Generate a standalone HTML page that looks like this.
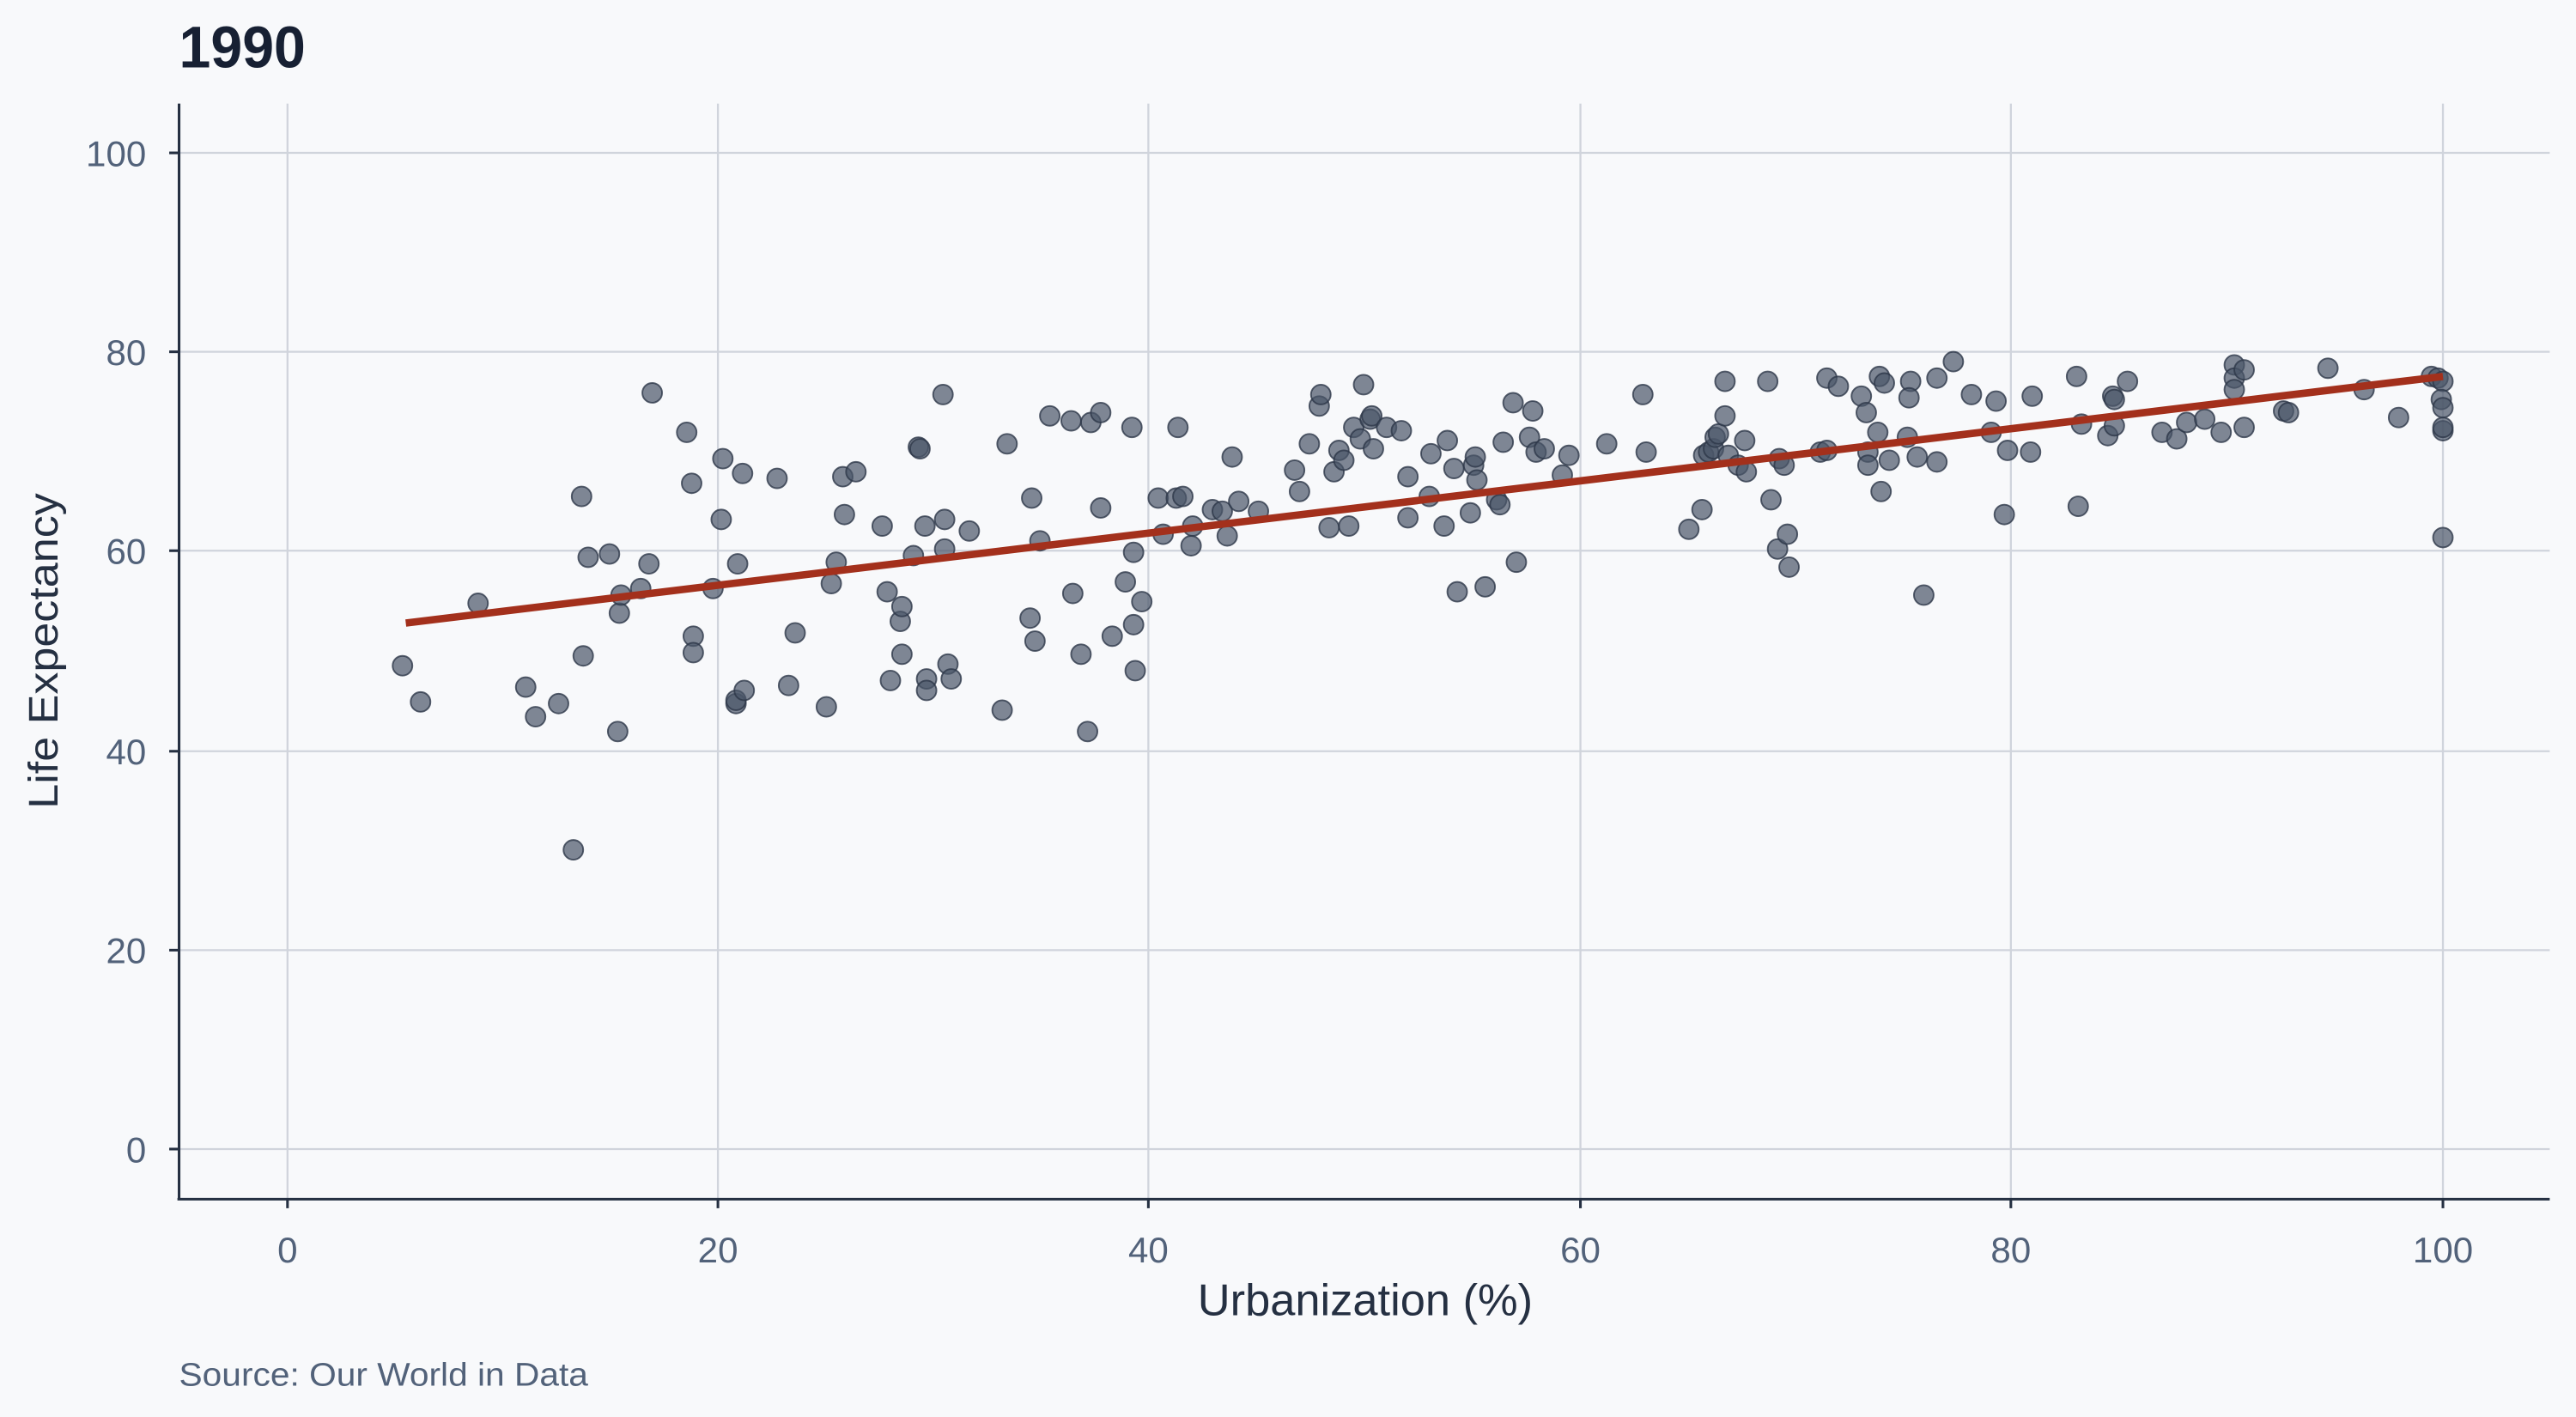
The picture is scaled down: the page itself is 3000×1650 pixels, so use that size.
<!DOCTYPE html>
<html><head><meta charset="utf-8"><style>html,body{margin:0;padding:0;background:#f8f9fb}svg{display:block}</style></head>
<body>
<svg width="3000" height="1650" viewBox="0 0 1568 862" preserveAspectRatio="none" xmlns="http://www.w3.org/2000/svg" font-family="Liberation Sans, Arial, sans-serif">
<rect width="1568" height="862" fill="#f8f9fb"/>
<g stroke="#d0d4dc" stroke-width="1.2">
<line x1="175" y1="63" x2="175" y2="729"/><line x1="437" y1="63" x2="437" y2="729"/><line x1="699" y1="63" x2="699" y2="729"/><line x1="962" y1="63" x2="962" y2="729"/><line x1="1224" y1="63" x2="1224" y2="729"/><line x1="1487" y1="63" x2="1487" y2="729"/>
<line x1="109" y1="699" x2="1552" y2="699"/><line x1="109" y1="578" x2="1552" y2="578"/><line x1="109" y1="457" x2="1552" y2="457"/><line x1="109" y1="335" x2="1552" y2="335"/><line x1="109" y1="214" x2="1552" y2="214"/><line x1="109" y1="93" x2="1552" y2="93"/>
</g>
<g stroke="#253042" stroke-width="1.6">
<line x1="109" y1="63" x2="109" y2="730"/><line x1="108" y1="729.5" x2="1552" y2="729.5"/>
<line x1="103" y1="699" x2="109" y2="699"/><line x1="103" y1="578" x2="109" y2="578"/><line x1="103" y1="457" x2="109" y2="457"/><line x1="103" y1="335" x2="109" y2="335"/><line x1="103" y1="214" x2="109" y2="214"/><line x1="103" y1="93" x2="109" y2="93"/>
<line x1="175" y1="729" x2="175" y2="735"/><line x1="437" y1="729" x2="437" y2="735"/><line x1="699" y1="729" x2="699" y2="735"/><line x1="962" y1="729" x2="962" y2="735"/><line x1="1224" y1="729" x2="1224" y2="735"/><line x1="1487" y1="729" x2="1487" y2="735"/>
</g>
<g fill="#52627a" font-size="22" text-anchor="end">
<text x="89" y="707">0</text><text x="89" y="586">20</text><text x="89" y="465">40</text><text x="89" y="343">60</text><text x="89" y="222">80</text><text x="89" y="101">100</text>
</g>
<g fill="#52627a" font-size="22" text-anchor="middle">
<text x="175" y="768">0</text><text x="437" y="768">20</text><text x="699" y="768">40</text><text x="962" y="768">60</text><text x="1224" y="768">80</text><text x="1487" y="768">100</text>
</g>
<text x="831" y="800" font-size="27" fill="#253042" text-anchor="middle" textLength="204" lengthAdjust="spacingAndGlyphs">Urbanization (%)</text>
<text transform="translate(35,396) rotate(-90)" font-size="25" fill="#253042" text-anchor="middle" textLength="192" lengthAdjust="spacingAndGlyphs">Life Expectancy</text>
<text x="109" y="41" font-size="36" font-weight="bold" fill="#172033" textLength="77" lengthAdjust="spacingAndGlyphs">1990</text>
<text x="109" y="843" font-size="20" fill="#52627a" textLength="249" lengthAdjust="spacingAndGlyphs">Source: Our World in Data</text>
<g fill="#4a5568" fill-opacity="0.7" stroke="#2d3748" stroke-opacity="0.8" stroke-width="1">
<circle cx="245" cy="405" r="6"/><circle cx="256" cy="427" r="6"/><circle cx="291" cy="367" r="6"/><circle cx="320" cy="418" r="6"/><circle cx="326" cy="436" r="6"/><circle cx="340" cy="428" r="6"/><circle cx="349" cy="517" r="6"/><circle cx="354" cy="302" r="6"/><circle cx="355" cy="399" r="6"/><circle cx="358" cy="339" r="6"/><circle cx="371" cy="337" r="6"/><circle cx="376" cy="445" r="6"/><circle cx="377" cy="373" r="6"/><circle cx="378" cy="362" r="6"/><circle cx="390" cy="358" r="6"/><circle cx="395" cy="343" r="6"/><circle cx="397" cy="239" r="6"/><circle cx="418" cy="263" r="6"/><circle cx="421" cy="294" r="6"/><circle cx="422" cy="387" r="6"/><circle cx="422" cy="397" r="6"/><circle cx="434" cy="358" r="6"/><circle cx="440" cy="279" r="6"/><circle cx="439" cy="316" r="6"/><circle cx="448" cy="428" r="6"/><circle cx="448" cy="426" r="6"/><circle cx="449" cy="343" r="6"/><circle cx="452" cy="288" r="6"/><circle cx="453" cy="420" r="6"/><circle cx="473" cy="291" r="6"/><circle cx="480" cy="417" r="6"/><circle cx="484" cy="385" r="6"/><circle cx="503" cy="430" r="6"/><circle cx="506" cy="355" r="6"/><circle cx="509" cy="342" r="6"/><circle cx="513" cy="290" r="6"/><circle cx="514" cy="313" r="6"/><circle cx="521" cy="287" r="6"/><circle cx="537" cy="320" r="6"/><circle cx="540" cy="360" r="6"/><circle cx="542" cy="414" r="6"/><circle cx="548" cy="378" r="6"/><circle cx="549" cy="369" r="6"/><circle cx="549" cy="398" r="6"/><circle cx="556" cy="338" r="6"/><circle cx="559" cy="272" r="6"/><circle cx="560" cy="273" r="6"/><circle cx="563" cy="320" r="6"/><circle cx="564" cy="413" r="6"/><circle cx="564" cy="420" r="6"/><circle cx="574" cy="240" r="6"/><circle cx="575" cy="316" r="6"/><circle cx="575" cy="334" r="6"/><circle cx="577" cy="404" r="6"/><circle cx="579" cy="413" r="6"/><circle cx="590" cy="323" r="6"/><circle cx="610" cy="432" r="6"/><circle cx="613" cy="270" r="6"/><circle cx="627" cy="376" r="6"/><circle cx="628" cy="303" r="6"/><circle cx="630" cy="390" r="6"/><circle cx="633" cy="329" r="6"/><circle cx="639" cy="253" r="6"/><circle cx="652" cy="256" r="6"/><circle cx="653" cy="361" r="6"/><circle cx="658" cy="398" r="6"/><circle cx="662" cy="445" r="6"/><circle cx="664" cy="257" r="6"/><circle cx="670" cy="251" r="6"/><circle cx="670" cy="309" r="6"/><circle cx="677" cy="387" r="6"/><circle cx="685" cy="354" r="6"/><circle cx="689" cy="260" r="6"/><circle cx="690" cy="380" r="6"/><circle cx="690" cy="336" r="6"/><circle cx="691" cy="408" r="6"/><circle cx="695" cy="366" r="6"/><circle cx="705" cy="303" r="6"/><circle cx="708" cy="325" r="6"/><circle cx="716" cy="303" r="6"/><circle cx="717" cy="260" r="6"/><circle cx="720" cy="302" r="6"/><circle cx="725" cy="332" r="6"/><circle cx="726" cy="320" r="6"/><circle cx="738" cy="310" r="6"/><circle cx="744" cy="311" r="6"/><circle cx="747" cy="326" r="6"/><circle cx="750" cy="278" r="6"/><circle cx="754" cy="305" r="6"/><circle cx="766" cy="311" r="6"/><circle cx="788" cy="286" r="6"/><circle cx="791" cy="299" r="6"/><circle cx="797" cy="270" r="6"/><circle cx="803" cy="247" r="6"/><circle cx="804" cy="240" r="6"/><circle cx="809" cy="321" r="6"/><circle cx="812" cy="287" r="6"/><circle cx="815" cy="274" r="6"/><circle cx="818" cy="280" r="6"/><circle cx="821" cy="320" r="6"/><circle cx="824" cy="260" r="6"/><circle cx="828" cy="267" r="6"/><circle cx="830" cy="234" r="6"/><circle cx="834" cy="255" r="6"/><circle cx="835" cy="253" r="6"/><circle cx="836" cy="273" r="6"/><circle cx="844" cy="260" r="6"/><circle cx="853" cy="262" r="6"/><circle cx="857" cy="290" r="6"/><circle cx="857" cy="315" r="6"/><circle cx="870" cy="302" r="6"/><circle cx="871" cy="276" r="6"/><circle cx="879" cy="320" r="6"/><circle cx="881" cy="268" r="6"/><circle cx="885" cy="285" r="6"/><circle cx="887" cy="360" r="6"/><circle cx="895" cy="312" r="6"/><circle cx="897" cy="283" r="6"/><circle cx="898" cy="278" r="6"/><circle cx="899" cy="292" r="6"/><circle cx="904" cy="357" r="6"/><circle cx="911" cy="304" r="6"/><circle cx="913" cy="307" r="6"/><circle cx="915" cy="269" r="6"/><circle cx="921" cy="245" r="6"/><circle cx="923" cy="342" r="6"/><circle cx="931" cy="266" r="6"/><circle cx="933" cy="250" r="6"/><circle cx="935" cy="275" r="6"/><circle cx="940" cy="273" r="6"/><circle cx="951" cy="289" r="6"/><circle cx="955" cy="277" r="6"/><circle cx="978" cy="270" r="6"/><circle cx="1000" cy="240" r="6"/><circle cx="1002" cy="275" r="6"/><circle cx="1028" cy="322" r="6"/><circle cx="1036" cy="310" r="6"/><circle cx="1037" cy="277" r="6"/><circle cx="1040" cy="275" r="6"/><circle cx="1043" cy="273" r="6"/><circle cx="1044" cy="266" r="6"/><circle cx="1046" cy="264" r="6"/><circle cx="1050" cy="232" r="6"/><circle cx="1050" cy="253" r="6"/><circle cx="1052" cy="277" r="6"/><circle cx="1058" cy="283" r="6"/><circle cx="1062" cy="268" r="6"/><circle cx="1063" cy="287" r="6"/><circle cx="1076" cy="232" r="6"/><circle cx="1078" cy="304" r="6"/><circle cx="1082" cy="334" r="6"/><circle cx="1083" cy="279" r="6"/><circle cx="1086" cy="283" r="6"/><circle cx="1088" cy="325" r="6"/><circle cx="1089" cy="345" r="6"/><circle cx="1108" cy="275" r="6"/><circle cx="1112" cy="274" r="6"/><circle cx="1112" cy="230" r="6"/><circle cx="1119" cy="235" r="6"/><circle cx="1133" cy="241" r="6"/><circle cx="1136" cy="251" r="6"/><circle cx="1137" cy="275" r="6"/><circle cx="1137" cy="283" r="6"/><circle cx="1143" cy="263" r="6"/><circle cx="1144" cy="229" r="6"/><circle cx="1145" cy="299" r="6"/><circle cx="1147" cy="233" r="6"/><circle cx="1150" cy="280" r="6"/><circle cx="1161" cy="266" r="6"/><circle cx="1163" cy="232" r="6"/><circle cx="1162" cy="242" r="6"/><circle cx="1167" cy="278" r="6"/><circle cx="1171" cy="362" r="6"/><circle cx="1179" cy="230" r="6"/><circle cx="1179" cy="281" r="6"/><circle cx="1189" cy="220" r="6"/><circle cx="1200" cy="240" r="6"/><circle cx="1212" cy="263" r="6"/><circle cx="1215" cy="244" r="6"/><circle cx="1220" cy="313" r="6"/><circle cx="1222" cy="274" r="6"/><circle cx="1236" cy="275" r="6"/><circle cx="1237" cy="241" r="6"/><circle cx="1264" cy="229" r="6"/><circle cx="1265" cy="308" r="6"/><circle cx="1267" cy="258" r="6"/><circle cx="1283" cy="265" r="6"/><circle cx="1286" cy="241" r="6"/><circle cx="1287" cy="243" r="6"/><circle cx="1287" cy="259" r="6"/><circle cx="1295" cy="232" r="6"/><circle cx="1316" cy="263" r="6"/><circle cx="1325" cy="267" r="6"/><circle cx="1331" cy="257" r="6"/><circle cx="1342" cy="255" r="6"/><circle cx="1352" cy="263" r="6"/><circle cx="1360" cy="222" r="6"/><circle cx="1360" cy="230" r="6"/><circle cx="1360" cy="237" r="6"/><circle cx="1366" cy="225" r="6"/><circle cx="1366" cy="260" r="6"/><circle cx="1390" cy="250" r="6"/><circle cx="1393" cy="251" r="6"/><circle cx="1417" cy="224" r="6"/><circle cx="1439" cy="237" r="6"/><circle cx="1460" cy="254" r="6"/><circle cx="1480" cy="229" r="6"/><circle cx="1484" cy="230" r="6"/><circle cx="1487" cy="232" r="6"/><circle cx="1486" cy="243" r="6"/><circle cx="1487" cy="248" r="6"/><circle cx="1487" cy="262" r="6"/><circle cx="1487" cy="260" r="6"/><circle cx="1487" cy="327" r="6"/>
</g>
<line x1="247" y1="379" x2="1487" y2="229" stroke="#a3301c" stroke-width="4.5"/>
</svg>
</body></html>
